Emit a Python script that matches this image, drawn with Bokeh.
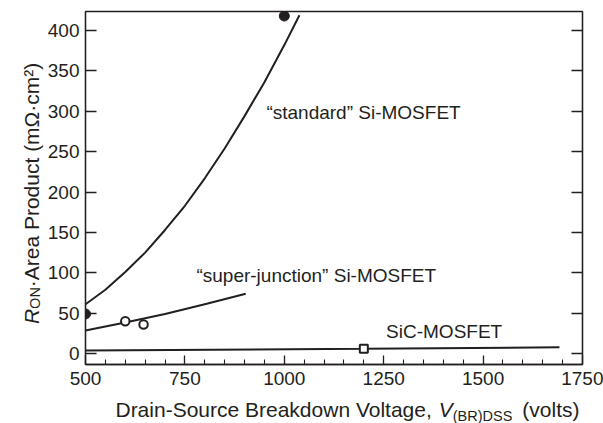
import math
from bokeh.plotting import figure
from bokeh.models import Range1d, LinearAxis, FixedTicker, Label
from bokeh.layouts import column, row
from bokeh.embed import file_html
from bokeh.resources import INLINE

# ---------------- data ----------------
std_v = [500, 550, 600, 650, 700, 750, 800, 850, 900, 950, 1000, 1038]
std_r = [61, 79, 101, 125, 153, 183, 217, 254, 294, 336, 382, 419]

sj_v = [500, 600, 700, 800, 903]
sj_r = [28.5, 38.5, 49, 61, 74]

sic_v = [500, 1200, 1692]
sic_r = [3.7, 5.8, 7.8]

si_std_pts_v = [500, 1000]
si_std_pts_r = [49, 418]
sj_pts_v = [600, 646]
sj_pts_r = [40, 36]
sic_pts_v = [1200]
sic_pts_r = [5.8]

x_ticks = [500, 750, 1000, 1250, 1500, 1750]
x_minor = [550, 600, 650, 700, 800, 850, 900, 950, 1050, 1100, 1150, 1200,
           1300, 1350, 1400, 1450, 1550, 1600, 1650, 1700]
y_ticks = [0, 50, 100, 150, 200, 250, 300, 350, 400]

lab_std = "\u201cstandard\u201d Si-MOSFET"
lab_sj = "\u201csuper-junction\u201d Si-MOSFET"
lab_sic = "SiC-MOSFET"

# ---------------- layout ----------------
TOT_W, TOT_H = 603, 423
YT_W = 44                 # strip for the y title
XT_H = 28                 # strip for the x title
W, H = TOT_W - YT_W, TOT_H - XT_H
BL, BR, BT, BB = 84 - YT_W, 21, 11, 31
X0, X1 = 500, 1750
Y0, Y1 = -13.6, 423.6
FONT = "Liberation Sans"
INK = "#231f20"

p = figure(width=W, height=H, output_backend="svg", toolbar_location=None,
           x_range=Range1d(X0, X1), y_range=Range1d(Y0, Y1),
           min_border_left=BL, min_border_right=BR, min_border_top=BT,
           min_border_bottom=BB, background_fill_color="white",
           border_fill_color="white")
p.grid.visible = False
p.outline_line_color = INK
p.outline_line_width = 1.3
p.outline_line_alpha = 1.0

xa = p.xaxis[0]
xa.ticker = FixedTicker(ticks=x_ticks, minor_ticks=x_minor)
xa.major_tick_in = 9
xa.major_tick_out = 0
xa.minor_tick_in = 5
xa.minor_tick_out = 0
xa.major_label_standoff = 7

ya = p.yaxis[0]
ya.ticker = FixedTicker(ticks=y_ticks)
ya.major_tick_in = 11
ya.major_tick_out = 0
ya.minor_tick_in = 0
ya.minor_tick_out = 0
ya.major_label_standoff = 6

for ax in (xa, ya):
    ax.axis_line_color = INK
    ax.axis_line_width = 1.3
    ax.major_tick_line_color = INK
    ax.major_tick_line_width = 1.3
    ax.minor_tick_line_color = INK
    ax.minor_tick_line_width = 1.1
    ax.major_label_text_font = FONT
    ax.major_label_text_font_size = "19px"
    ax.major_label_text_color = INK

ra = LinearAxis(ticker=FixedTicker(ticks=y_ticks), major_tick_in=11,
                major_tick_out=0, minor_tick_in=0, minor_tick_out=0,
                major_label_text_font_size="0px", major_label_standoff=0,
                axis_line_color=INK, axis_line_width=1.3,
                major_tick_line_color=INK, major_tick_line_width=1.3,
                major_label_overrides={t: "" for t in y_ticks})
p.add_layout(ra, "right")

# ---------------- curves ----------------
p.line(std_v, std_r, line_color=INK, line_width=2, line_join="round")
p.line(sj_v, sj_r, line_color=INK, line_width=2, line_join="round")
p.line(sic_v, sic_r, line_color=INK, line_width=2)

p.scatter(si_std_pts_v, si_std_pts_r, marker="circle", size=10,
          fill_color=INK, line_color=INK)
p.scatter(sj_pts_v, sj_pts_r, marker="circle", size=8.5,
          fill_color="white", line_color=INK, line_width=2)
p.scatter(sic_pts_v, sic_pts_r, marker="square", size=8,
          fill_color="white", line_color=INK, line_width=2)

# ---------------- curve labels ----------------
for txt, x, y in [(lab_std, 955, 298), (lab_sj, 779, 97), (lab_sic, 1256, 26.7)]:
    p.add_layout(Label(x=x, y=y, text=txt, text_font=FONT,
                       text_font_size="19px", text_color=INK,
                       text_align="left", text_baseline="middle"))

# ---------------- axis titles ----------------
AW = {" ": 278, "(": 333, ")": 333, "-": 333, ",": 278, "\u00b7": 333,
      "\u00b2": 333, "\u03a9": 768, "A": 667, "B": 667, "D": 722, "E": 667,
      "F": 611, "M": 833, "N": 722, "O": 778, "P": 667, "R": 722, "S": 667,
      "T": 611, "V": 667, "a": 556, "c": 500, "d": 556, "e": 556, "g": 556,
      "i": 222, "k": 500, "l": 222, "m": 833, "n": 556, "o": 556, "r": 333,
      "s": 500, "t": 278, "u": 556, "w": 722, "v": 500}


def tw(s, size):
    return sum(AW.get(c, 556) for c in s) * size / 1000.0


def blank(width, height):
    f = figure(width=width, height=height, output_backend="svg",
               toolbar_location=None, x_range=Range1d(0, width),
               y_range=Range1d(0, height), min_border=0,
               x_axis_type=None, y_axis_type=None,
               background_fill_color="white", border_fill_color="white")
    f.grid.visible = False
    f.outline_line_color = None
    return f


TF = 21
SF = 14.5
SUB = 6.0

# x title strip (plain text glyphs, coordinates = pixels)
xt = blank(TOT_W, XT_H)
x_pieces = [("Drain-Source Breakdown Voltage, ", TF, "normal", 0, 0),
            ("V", TF, "italic", 0, 0),
            ("(BR)DSS", SF, "normal", SUB, 0),
            ("(volts)", TF, "normal", 0, 10)]
total = sum(tw(t, s) + g for t, s, _, _, g in x_pieces)
cur = 347 - total / 2
mid_page = 409
for t, s, st, sh, g in x_pieces:
    cur += g
    xt.text(x=[cur], y=[TOT_H - (mid_page + sh)], text=[t],
            text_font={"value": FONT}, text_font_size=f"{s}px",
            text_font_style=st, text_color=INK,
            text_align="left", text_baseline="middle")
    cur += tw(t, s)


# y title: a column of thin figures, each carrying one piece as a
# (rotated, centred) axis label, so the pieces chain upwards.
def piece_fig(height, text, size, style, frame_left):
    f = figure(width=YT_W, height=height, output_backend="svg",
               toolbar_location=None, x_axis_type=None, y_axis_type=None,
               x_range=Range1d(0, 1), y_range=Range1d(0, 1),
               min_border_left=frame_left, min_border_right=0,
               min_border_top=0, min_border_bottom=0,
               background_fill_color="white", border_fill_color="white")
    f.grid.visible = False
    f.outline_line_color = None
    ax = LinearAxis(ticker=FixedTicker(ticks=[]), axis_label=text,
                    axis_label_text_font=FONT,
                    axis_label_text_font_size=f"{size}px",
                    axis_label_text_font_style=style,
                    axis_label_text_color=INK, axis_label_standoff=0,
                    axis_line_color=None, major_tick_line_color=None,
                    minor_tick_line_color=None, major_tick_in=0,
                    major_tick_out=0, major_label_text_font_size="0px",
                    major_label_standoff=0)
    f.add_layout(ax, "left")
    return f


long_txt = "\u00b7Area Product (m\u03a9\u00b7cm\u00b2)"
# page-y extents of the pieces (upward chain, centred near y = 193)
h_top, h_long, h_on, h_r = 62, 225, 21, 16
h_bot = H - h_top - h_long - h_on - h_r
yt = column(blank(YT_W, h_top),
            piece_fig(h_long, long_txt, TF, "normal", 36),
            piece_fig(h_on, "ON", SF, "normal", 42),
            piece_fig(h_r, "R", TF, "italic", 36),
            blank(YT_W, h_bot), spacing=0)

layout = column(row(yt, p, spacing=0), xt, spacing=0)
open("out.html", "w").write(file_html(layout, INLINE))
